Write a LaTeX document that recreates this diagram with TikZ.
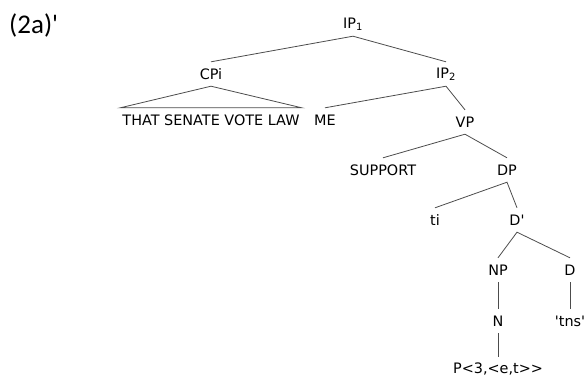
\documentclass[tikz,border=0pt]{standalone}
\usepackage{fontspec}
\setmainfont{DejaVu Sans}[Ligatures=TeXOff]
\newfontfamily\exfont{Carlito}[Ligatures=TeXOff]
\tikzset{
  cat/.style={inner sep=0pt, minimum height=24pt, font=\fontsize{14.4}{17}\selectfont},
  branch/.style={draw=black!70, line width=0.8pt}
}

\begin{document}
\begin{tikzpicture}[x=1pt, y=-1pt]
    \useasboundingbox (0,0) rectangle (586,378);
    \node[anchor=west, font=\exfont\fontsize{27}{30}\selectfont, inner sep=0pt] (ex) at (9,25) {(2a)'};
    \node[cat] (ip1) at (353,24) {IP\textsubscript{1}}; \node[cat] (cp)
    at (211,74) {CPi}; \node[cat] (ip2) at (446,74) {IP\textsubscript{2}};
    \node[cat, inner xsep=2pt] (law) at (211,120) {THAT SENATE VOTE LAW};
    \node[cat] (me) at (325,120) {ME}; \node[cat] (vp) at (465,122) {VP};
    \node[cat] (supp) at (383,170) {SUPPORT}; \node[cat] (dp) at (507,170)
    {DP}; \node[cat] (ti) at (435,220) {ti}; \node[cat] (dbar) at
    (517,220) {D'}; \node[cat] (np) at (498,270) {NP}; \node[cat] (d) at
    (570,270) {D}; \node[cat] (n) at (498,321) {N}; \node[cat] (tns) at
    (570,321) {'tns'}; \node[cat] (pred) at (498,369) {P<3,<e,t>>};
    \draw[branch] (cp.north) -- (ip1.south) -- (ip2.north);
    \draw[branch] (cp.south) -- (law.north west) -- (law.north east)
    -- cycle;
    \draw[branch] (me.north) -- (ip2.south) -- (vp.north);
    \draw[branch] (supp.north) -- (vp.south) -- (dp.north);
    \draw[branch] (ti.north) -- (dp.south) -- (dbar.north);
    \draw[branch] (np.north) -- (dbar.south) -- (d.north);
    \draw[branch] (np) -- (n); \draw[branch] (n) -- (pred);
    \draw[branch] (d) -- (tns);
  \end{tikzpicture}
\end{document}
